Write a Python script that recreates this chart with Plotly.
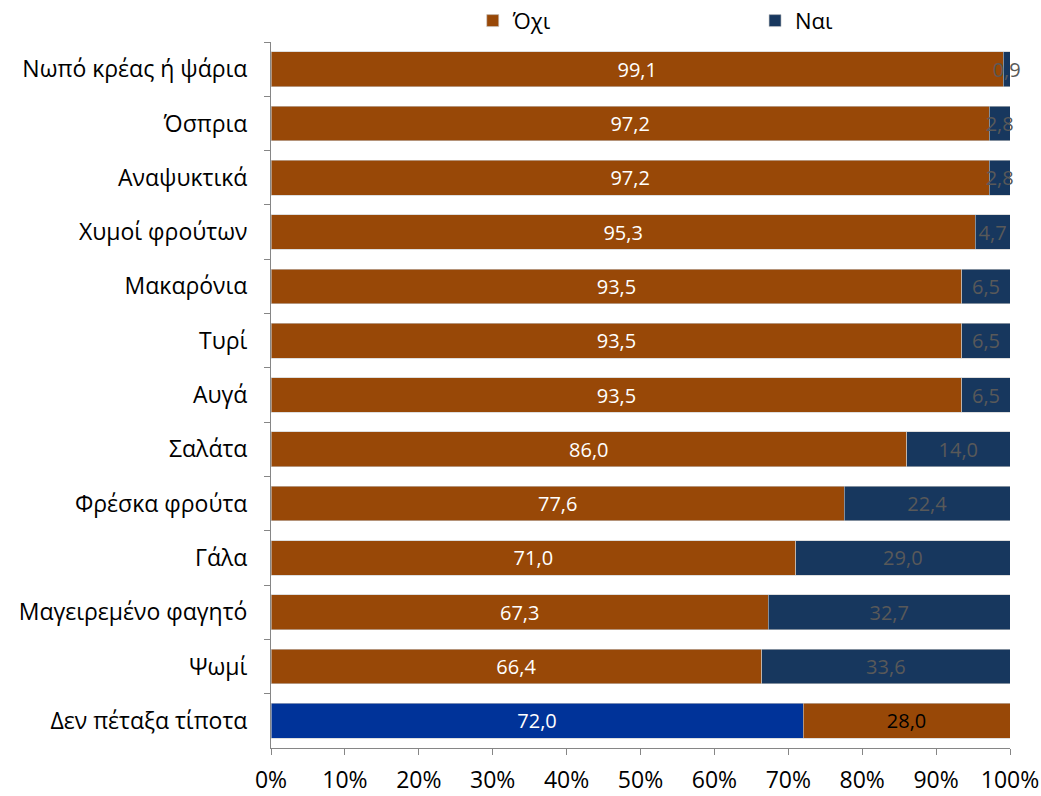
import plotly.graph_objects as go

categories = [
    "Νωπό κρέας ή ψάρια", "Όσπρια", "Αναψυκτικά", "Χυμοί φρούτων",
    "Μακαρόνια", "Τυρί", "Αυγά", "Σαλάτα", "Φρέσκα φρούτα", "Γάλα",
    "Μαγειρεμένο φαγητό", "Ψωμί", "Δεν πέταξα τίποτα",
]
no_values = [99.1, 97.2, 97.2, 95.3, 93.5, 93.5, 93.5, 86.0, 77.6, 71.0, 67.3, 66.4, 72.0]
yes_values = [0.9, 2.8, 2.8, 4.7, 6.5, 6.5, 6.5, 14.0, 22.4, 29.0, 32.7, 33.6, 28.0]
x_ticks = list(range(0, 101, 10))
x_tick_labels = [f"{v}%" for v in x_ticks]

BROWN = "#984807"
NAVY = "#17375E"
BLUE = "#003399"
FONT = "Open Sans, Noto Sans, sans-serif"

n = len(categories)
# last row: first segment blue, second segment brown
first_colors = [BROWN] * (n - 1) + [BLUE]
second_colors = [NAVY] * (n - 1) + [BROWN]
first_text_colors = ["white"] * n
second_text_colors = ["#595959"] * (n - 1) + ["black"]


def fmt(v):
    return f"{v:.1f}".replace(".", ",")


fig = go.Figure()
fig.add_trace(go.Bar(
    y=categories, x=no_values, name="Όχι", orientation="h",
    marker=dict(color=first_colors, line=dict(color="#C8C8C8", width=0.6)),
    text=[fmt(v) for v in no_values], textposition="inside", textangle=0,
    insidetextanchor="middle", constraintext="none", cliponaxis=False,
    textfont=dict(color=first_text_colors, size=20, family=FONT),
    legend="legend",
))
fig.add_trace(go.Bar(
    y=categories, x=yes_values, name="Ναι", orientation="h",
    marker=dict(color=second_colors, line=dict(color="#C8C8C8", width=0.6)),
    text=[fmt(v) for v in yes_values], textposition="inside", textangle=0,
    insidetextanchor="middle", constraintext="none", cliponaxis=False,
    textfont=dict(color=second_text_colors, size=20, family=FONT),
    legend="legend2",
))

legend_common = dict(
    orientation="h", yanchor="middle", xanchor="left", y=1.03,
    font=dict(size=22, family=FONT), itemclick=False, bgcolor="rgba(0,0,0,0)",
)

fig.update_layout(
    barmode="stack",
    bargap=0.36,
    width=1041, height=796,
    margin=dict(l=271, r=31, t=42, b=48, autoexpand=False),
    plot_bgcolor="white", paper_bgcolor="white",
    font=dict(family=FONT, size=23, color="black"),
    uniformtext=dict(minsize=20, mode="show"),
    showlegend=True,
    legend=dict(x=0.273, **legend_common),
    legend2=dict(x=0.655, **legend_common),
    xaxis=dict(
        range=[0, 100], tickvals=x_ticks, ticktext=x_tick_labels,
        showgrid=False, zeroline=False, automargin=False,
        showline=True, linecolor="#868686", linewidth=1,
        ticks="outside", ticklen=6, tickcolor="#868686",
        ticklabelstandoff=5,
        tickfont=dict(size=23, family=FONT),
    ),
    yaxis=dict(
        autorange="reversed", showgrid=False, automargin=False,
        showline=True, linecolor="#868686", linewidth=1,
        ticks="outside", ticklen=6, tickcolor="#868686",
        tickson="boundaries", ticklabelstandoff=18,
        tickfont=dict(size=23, family=FONT),
    ),
)

fig.write_html("out.html")
